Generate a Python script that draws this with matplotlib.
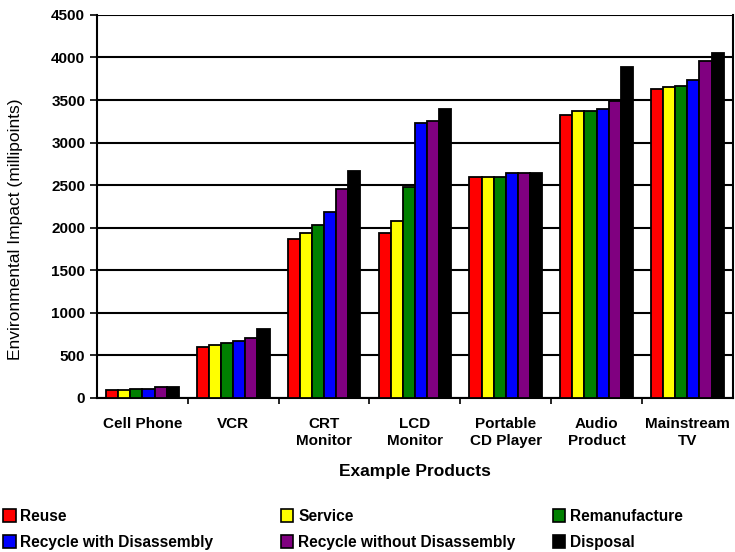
import numpy as np
import matplotlib.pyplot as plt
from matplotlib.patches import Patch

plt.rcParams['font.family'] = ['Liberation Sans', 'DejaVu Sans']

products = ['Cell Phone', 'VCR', 'CRT\nMonitor', 'LCD\nMonitor',
            'Portable\nCD Player', 'Audio\nProduct', 'Mainstream\nTV']
series = ['Reuse', 'Service', 'Remanufacture', 'Recycle with Disassembly',
          'Recycle without Disassembly', 'Disposal']
colors = ['#ff0000', '#ffff00', '#008000', '#0000ff', '#800080', '#000000']

reuse = [90, 600, 1870, 1940, 2600, 3320, 3630]
service = [90, 620, 1940, 2080, 2600, 3370, 3650]
remanufacture = [110, 645, 2030, 2480, 2600, 3370, 3670]
recycle_with = [110, 670, 2180, 3230, 2640, 3390, 3740]
recycle_without = [130, 700, 2450, 3250, 2640, 3490, 3960]
disposal = [130, 810, 2670, 3400, 2640, 3890, 4050]
values = [reuse, service, remanufacture, recycle_with, recycle_without, disposal]

fig = plt.figure(figsize=(7.35, 5.52), dpi=100)
ax = fig.add_axes([0.132, 0.279, 0.865, 0.694])

x = np.arange(len(products))
width = 0.8 / len(series)
for i, (vals, col) in enumerate(zip(values, colors)):
    ax.bar(x - 0.4 + width * (i + 0.5), vals, width, color=col,
           edgecolor='black', linewidth=1.3, zorder=3)

ax.set_xlim(-0.5, len(products) - 0.5)
ax.set_ylim(0, 4500)
ax.set_yticks(np.arange(0, 4501, 500))
ax.yaxis.grid(True, color='black', linewidth=1.5, zorder=0)
ax.set_axisbelow(True)

ax.set_xticks(x)
ax.set_xticklabels(products, fontweight='bold', fontsize=11)
ax.tick_params(axis='x', length=0, pad=14)
ax.set_xticks(np.arange(0.5, len(products) - 0.5), minor=True)
ax.tick_params(axis='x', which='minor', length=4, width=1.2, direction='out')
ax.tick_params(axis='y', length=5, width=1.2, direction='out', labelsize=11)
for lab in ax.get_yticklabels():
    lab.set_fontweight('bold')

for side in ['left', 'bottom', 'right']:
    ax.spines[side].set_linewidth(1.5)
ax.spines['top'].set_visible(False)

ax.set_xlabel('Example Products', fontweight='bold', fontsize=12.5, labelpad=12)
ax.set_ylabel('Environmental Impact (millipoints)', fontsize=12.5)
ax.yaxis.set_label_coords(-0.117, 0.44)

handles = [Patch(facecolor=c, edgecolor='black', linewidth=1.2) for c in colors]
col_x = [0.0, 0.378, 0.748]
for k in range(3):
    idx = [k, k + 3]
    fig.legend([handles[j] for j in idx], [series[j] for j in idx],
               loc='upper left', bbox_to_anchor=(col_x[k], 0.083),
               frameon=False, handlelength=0.8, handleheight=0.9,
               handletextpad=0.3, labelspacing=0.7, borderaxespad=0,
               borderpad=0.2, prop={'weight': 'bold', 'size': 11.2})

fig.savefig('out.png', dpi=100)
